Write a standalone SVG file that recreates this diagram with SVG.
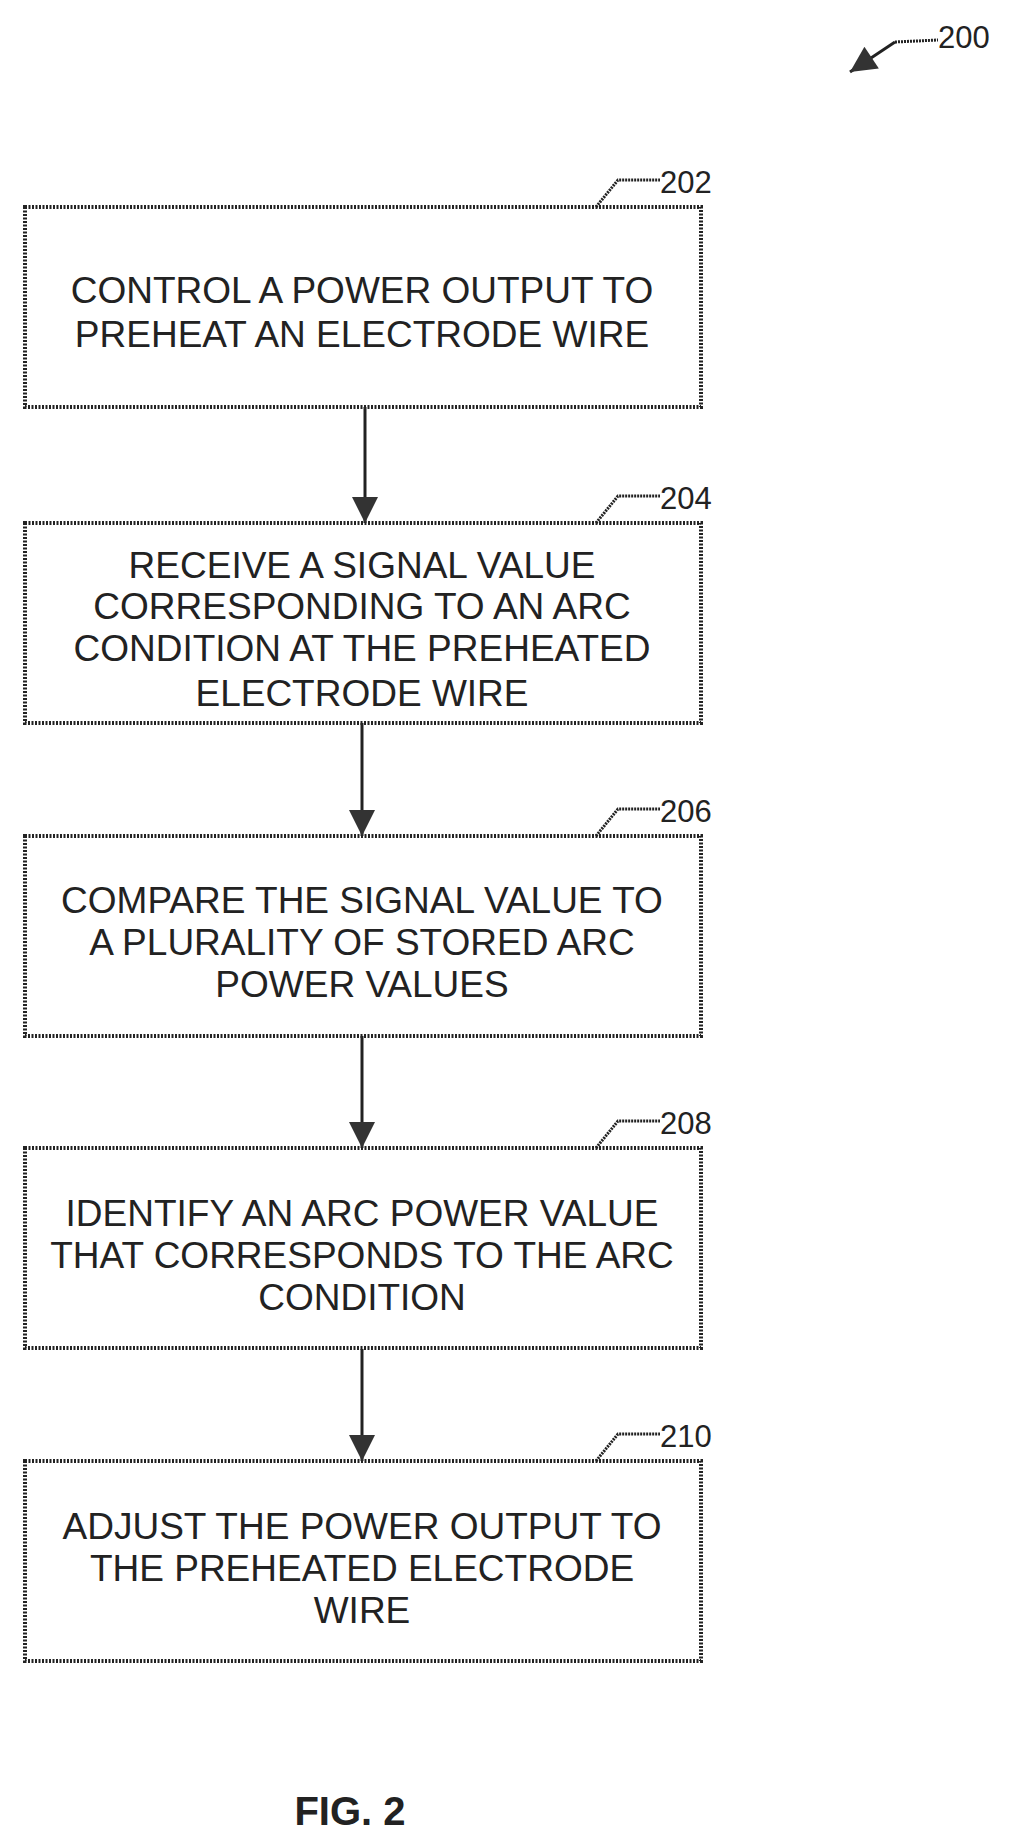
<svg xmlns="http://www.w3.org/2000/svg" width="1017" height="1839" viewBox="0 0 1017 1839">
<style>
.box{fill:#fff;stroke:#222;stroke-width:4;stroke-dasharray:2 1.5}
.t{font-family:"Liberation Sans",Arial,sans-serif;font-size:37px;fill:#222;text-anchor:middle}
.ref{font-family:"Liberation Sans",Arial,sans-serif;font-size:31px;fill:#222}
.ln{fill:none;stroke:#222;stroke-width:3}
.sq{fill:none;stroke:#222;stroke-width:3;stroke-dasharray:2 1}
</style>
<defs>
<marker id="big" viewBox="0 0 10 10" refX="10" refY="5" markerWidth="28" markerHeight="26" markerUnits="userSpaceOnUse" orient="auto"><path d="M0,0 L10,5 L0,10 Z" fill="#333"/></marker>
</defs>
<rect width="1017" height="1839" fill="#fff"/>
<g id="label200">
<path class="ln" d="M895,42 L850,72" marker-end="url(#big)"/>
<path class="sq" d="M895,42 L938,40"/>
<text class="ref" x="938" y="48">200</text>
</g>
<g id="n202">
<rect class="box" x="25" y="207" width="676" height="200"/>
<path class="sq" d="M596,207 L618,180 L660,180"/>
<text class="ref" x="660" y="193">202</text>
<text class="t" x="362" y="303">CONTROL A POWER OUTPUT TO</text>
<text class="t" x="362" y="347">PREHEAT AN ELECTRODE WIRE</text>
</g>
<g id="n204">
<rect class="box" x="25" y="523" width="676" height="200"/>
<path class="sq" d="M596,523 L618,496 L660,496"/>
<text class="ref" x="660" y="509">204</text>
<text class="t" x="362" y="578">RECEIVE A SIGNAL VALUE</text>
<text class="t" x="362" y="619">CORRESPONDING TO AN ARC</text>
<text class="t" x="362" y="661">CONDITION AT THE PREHEATED</text>
<text class="t" x="362" y="706">ELECTRODE WIRE</text>
</g>
<g id="n206">
<rect class="box" x="25" y="836" width="676" height="200"/>
<path class="sq" d="M596,836 L618,809 L660,809"/>
<text class="ref" x="660" y="822">206</text>
<text class="t" x="362" y="913">COMPARE THE SIGNAL VALUE TO</text>
<text class="t" x="362" y="955">A PLURALITY OF STORED ARC</text>
<text class="t" x="362" y="997">POWER VALUES</text>
</g>
<g id="n208">
<rect class="box" x="25" y="1148" width="676" height="200"/>
<path class="sq" d="M596,1148 L618,1121 L660,1121"/>
<text class="ref" x="660" y="1134">208</text>
<text class="t" x="362" y="1226">IDENTIFY AN ARC POWER VALUE</text>
<text class="t" x="362" y="1268">THAT CORRESPONDS TO THE ARC</text>
<text class="t" x="362" y="1310">CONDITION</text>
</g>
<g id="n210">
<rect class="box" x="25" y="1461" width="676" height="200"/>
<path class="sq" d="M596,1461 L618,1434 L660,1434"/>
<text class="ref" x="660" y="1447">210</text>
<text class="t" x="362" y="1539">ADJUST THE POWER OUTPUT TO</text>
<text class="t" x="362" y="1581">THE PREHEATED ELECTRODE</text>
<text class="t" x="362" y="1623">WIRE</text>
</g>
<g id="connectors">
<path class="ln" d="M365,407 L365,523" marker-end="url(#big)"/>
<path class="ln" d="M362,723 L362,836" marker-end="url(#big)"/>
<path class="ln" d="M362,1036 L362,1148" marker-end="url(#big)"/>
<path class="ln" d="M362,1349 L362,1461" marker-end="url(#big)"/>
</g>
<text x="350" y="1825" style="font-family:'Liberation Sans',Arial,sans-serif;font-size:40px;font-weight:bold;fill:#222" text-anchor="middle">FIG. 2</text>
</svg>
